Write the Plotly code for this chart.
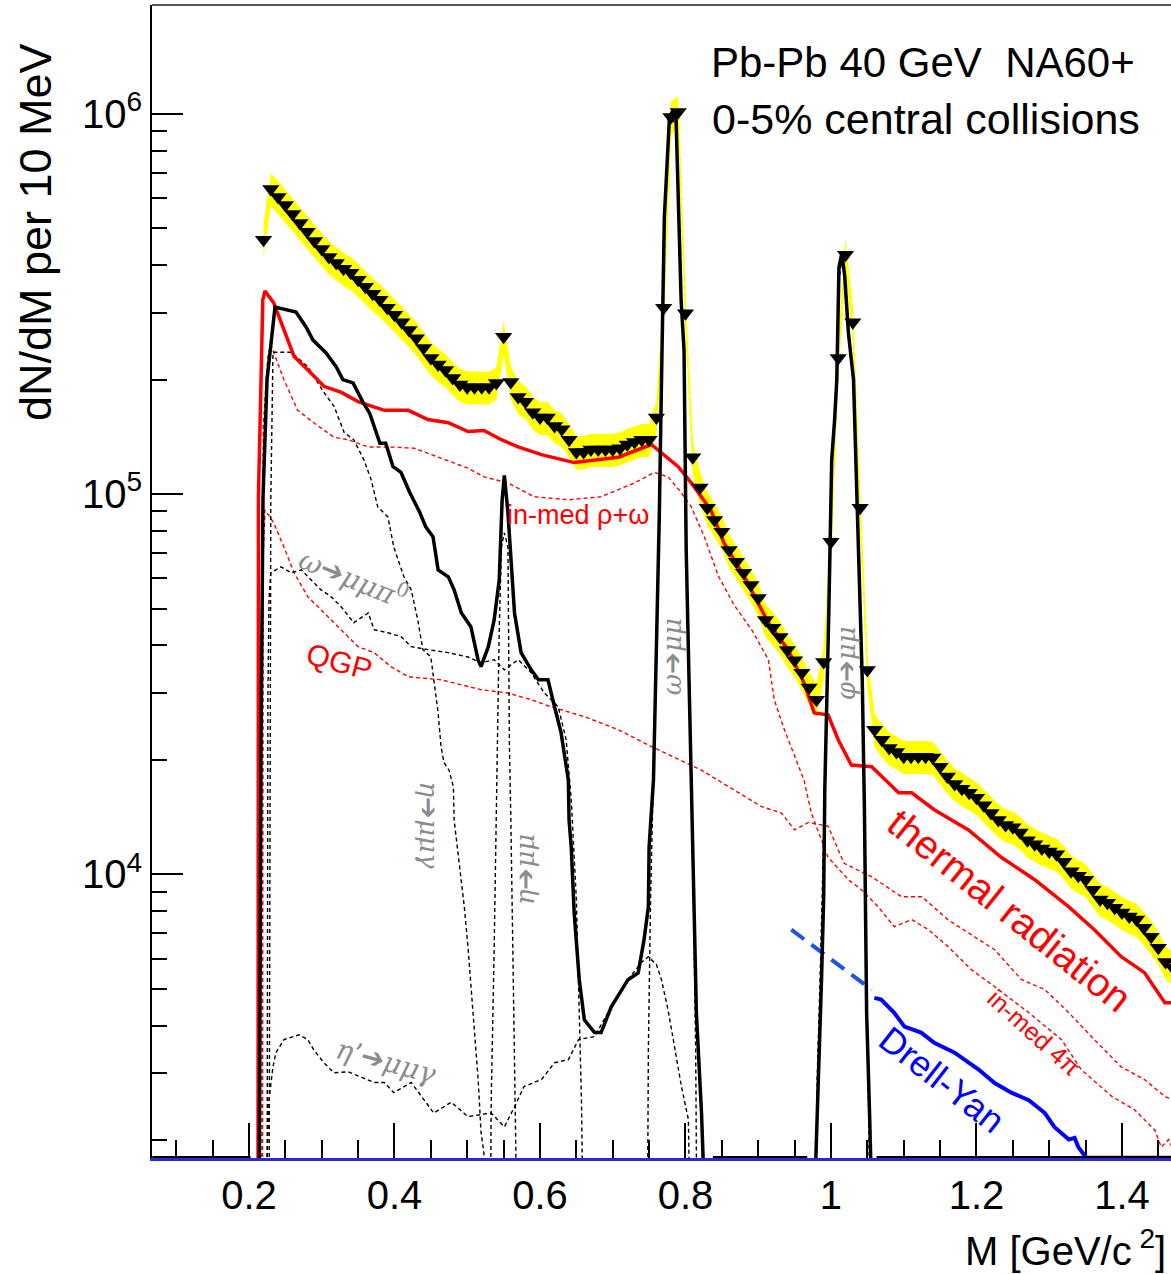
import numpy as np
import plotly.graph_objects as go

OFF = 1.0e3     # below the visible range (clipped)
FLOOR = 1.8e3   # histogram bins sitting on the bottom of the frame

# ---------------- measured spectrum (bin centres every 10 MeV) ----------------
data_mass = np.round(np.arange(0.22, 1.4751, 0.01), 2)
data_yield = [
    4.66e5, 6.34e5, 6.04e5, 5.75e5, 5.45e5, 5.16e5, 4.89e5, 4.63e5, 4.41e5, 4.20e5,
    4.05e5, 3.91e5, 3.82e5, 3.66e5, 3.51e5, 3.36e5, 3.24e5, 3.09e5, 2.96e5, 2.83e5,
    2.70e5, 2.57e5, 2.42e5, 2.28e5, 2.19e5, 2.12e5, 2.02e5, 1.94e5, 1.91e5, 1.91e5,
    1.91e5, 1.91e5, 1.96e5, 2.59e5, 1.97e5, 1.80e5, 1.75e5, 1.64e5, 1.59e5, 1.59e5,
    1.51e5, 1.48e5, 1.39e5, 1.29e5, 1.29e5, 1.31e5, 1.31e5, 1.31e5, 1.31e5, 1.32e5,
    1.35e5, 1.37e5, 1.39e5, 1.39e5, 1.59e5, 3.09e5, 9.80e5, 1.01e6, 2.99e5, 1.25e5,
    1.04e5, 9.20e4, 8.55e4, 7.96e4, 7.13e4, 6.64e4, 6.21e4, 5.77e4, 5.33e4, 4.67e4,
    4.45e4, 4.21e4, 3.89e4, 3.66e4, 3.39e4, 3.10e4, 2.88e4, 3.62e4, 7.49e4, 2.28e5,
    4.26e5, 2.83e5, 9.20e4, 3.45e4, 2.40e4, 2.26e4, 2.15e4, 2.10e4, 2.04e4, 2.04e4,
    2.04e4, 2.04e4, 2.03e4, 1.92e4, 1.81e4, 1.73e4, 1.68e4, 1.64e4, 1.59e4, 1.52e4,
    1.45e4, 1.39e4, 1.35e4, 1.33e4, 1.29e4, 1.23e4, 1.20e4, 1.17e4, 1.15e4, 1.13e4,
    1.08e4, 1.02e4, 9.92e3, 9.69e3, 9.12e3, 8.59e3, 8.43e3, 8.18e3, 7.94e3, 7.75e3,
    7.61e3, 7.24e3, 6.86e3, 6.42e3, 5.89e3, 5.69e3,
]
sys_rel_err = 0.10

# ---------------- thermal radiation (total, thick red) ----------------
thermal_mass = [0.2124, 0.213, 0.219, 0.222, 0.234, 0.248, 0.262, 0.281, 0.303, 0.327,
                0.350, 0.386, 0.419, 0.446, 0.474, 0.501, 0.523, 0.547, 0.570, 0.602,
                0.647, 0.708, 0.753, 0.790, 0.808, 0.835, 0.853, 0.881, 0.914, 0.941,
                0.963, 0.977, 0.996, 1.010, 1.028, 1.056, 1.093, 1.111, 1.142, 1.189,
                1.234, 1.280, 1.327, 1.362, 1.399, 1.431, 1.459, 1.47]
thermal_yield = [OFF, 9.84e4, 3.24e5, 3.42e5, 3.18e5, 2.70e5, 2.30e5, 2.12e5, 1.92e5, 1.85e5,
                 1.75e5, 1.66e5, 1.66e5, 1.57e5, 1.54e5, 1.46e5, 1.47e5, 1.39e5, 1.33e5, 1.27e5,
                 1.21e5, 1.25e5, 1.35e5, 1.18e5, 1.07e5, 9.08e4, 7.44e4, 6.06e4, 4.59e4, 3.90e4,
                 3.19e4, 2.66e4, 2.63e4, 2.26e4, 1.94e4, 1.92e4, 1.64e4, 1.64e4, 1.48e4, 1.31e4,
                 1.11e4, 9.69e3, 8.22e3, 7.16e3, 6.08e3, 5.52e3, 4.60e3, 4.60e3]

# ---------------- in-medium rho+omega (+4pi), thin red dashed ----------------
inmed_mass = [0.2185, 0.2195, 0.226, 0.230, 0.248, 0.267, 0.289, 0.317, 0.336, 0.364,
              0.395, 0.427, 0.446, 0.474, 0.501, 0.523, 0.556, 0.592, 0.639, 0.684,
              0.730, 0.757, 0.776, 0.794, 0.808, 0.826, 0.845, 0.867, 0.891, 0.914,
              0.922, 0.936, 0.950, 0.963, 0.973, 0.996, 1.024, 1.042, 1.065, 1.087,
              1.111, 1.134, 1.161, 1.193, 1.225, 1.272, 1.317, 1.344, 1.386, 1.417,
              1.445, 1.454, 1.464, 1.47]
inmed_yield = [OFF, 1.5e5, 2.3e5, 2.47e5, 2.00e5, 1.66e5, 1.54e5, 1.41e5, 1.39e5, 1.33e5,
               1.33e5, 1.32e5, 1.28e5, 1.22e5, 1.17e5, 1.11e5, 1.07e5, 9.84e4, 9.66e4, 9.84e4,
               1.07e5, 1.14e5, 1.11e5, 1.01e5, 9.25e4, 7.72e4, 6.1e4, 5.1e4, 4.4e4, 3.67e4,
               2.88e4, 2.40e4, 2.04e4, 1.77e4, 1.45e4, 1.11e4, 9.69e3, 9.12e3, 8.22e3, 7.29e3,
               7.61e3, 7.16e3, 6.46e3, 5.62e3, 5.07e3, 4.33e3, 3.68e3, 3.07e3, 2.61e3, 2.41e3,
               2.13e3, 1.92e3, 2.01e3, 1.90e3]

# ---------------- QGP, thin red dashed ----------------
qgp_mass = [0.2175, 0.2193, 0.222, 0.234, 0.248, 0.262, 0.281, 0.303, 0.327, 0.350,
            0.372, 0.395, 0.419, 0.464, 0.519, 0.556, 0.588, 0.615, 0.661, 0.708,
            0.753, 0.822, 0.904, 0.932, 0.950, 0.969, 0.996, 1.018, 1.056, 1.097,
            1.125, 1.161, 1.225, 1.262, 1.294, 1.327, 1.362, 1.399, 1.431, 1.459, 1.47]
qgp_yield = [OFF, 6.71e4, 9.09e4, 8.40e4, 7.26e4, 6.21e4, 5.37e4, 4.87e4, 4.40e4, 3.97e4,
             3.83e4, 3.52e4, 3.31e4, 3.25e4, 3.06e4, 3.00e4, 2.88e4, 2.76e4, 2.60e4, 2.40e4,
             2.17e4, 1.88e4, 1.51e4, 1.45e4, 1.31e4, 1.37e4, 1.34e4, 1.07e4, 9.86e3, 8.74e3,
             8.74e3, 7.60e3, 6.34e3, 5.29e3, 4.98e3, 4.33e3, 3.68e3, 3.12e3, 2.89e3, 2.61e3, 2.55e3]

# ---------------- hadronic cocktail sum (thick black) ----------------
cocktail_mass = [0.067, 0.200, 0.2138, 0.2165, 0.2193, 0.2248, 0.2358, 0.2647, 0.2784, 0.288,
                 0.306, 0.320, 0.329, 0.343, 0.357, 0.366, 0.380, 0.388, 0.398, 0.409,
                 0.421, 0.435, 0.443, 0.453, 0.460, 0.474, 0.482, 0.492, 0.505, 0.515,
                 0.519, 0.529, 0.537, 0.544, 0.548, 0.551, 0.556, 0.560, 0.565, 0.574,
                 0.588, 0.598, 0.611, 0.620, 0.629, 0.639, 0.640, 0.643, 0.647, 0.654,
                 0.661, 0.675, 0.684, 0.698, 0.721, 0.735, 0.743, 0.749, 0.750, 0.756,
                 0.760, 0.764, 0.767, 0.771, 0.778, 0.783, 0.787, 0.790, 0.794, 0.798,
                 0.801, 0.804, 0.808, 0.811, 0.815, 0.822, 0.829, 0.840, 0.965, 0.975,
                 0.983, 0.987, 0.990, 0.9915, 0.997, 1.001, 1.005, 1.008, 1.011, 1.015,
                 1.019, 1.024, 1.031, 1.035, 1.039, 1.043, 1.046, 1.049, 1.053, 1.058,
                 1.065, 1.47]
cocktail_yield = [FLOOR, FLOOR, OFF, 2.12e4, 9.84e4, 2.00e5, 3.10e5, 3.01e5, 2.75e5, 2.54e5,
                  2.35e5, 2.16e5, 2.00e5, 1.96e5, 1.74e5, 1.63e5, 1.36e5, 1.36e5, 1.18e5, 1.14e5,
                  1.01e5, 8.93e4, 8.20e4, 7.72e4, 6.32e4, 6.06e4, 5.60e4, 4.87e4, 4.48e4, 3.66e4,
                  3.52e4, 3.97e4, 4.67e4, 5.95e4, 9.66e4, 1.12e5, 8.93e4, 6.60e4, 4.87e4, 3.83e4,
                  3.45e4, 3.25e4, 3.25e4, 2.76e4, 2.36e4, 1.77e4, 1.39e4, 1.18e4, 7.94e3, 5.29e3,
                  4.15e3, 3.84e3, 3.84e3, 4.49e3, 5.29e3, 5.51e3, 6.73e3, 8.22e3, 1.18e4, 1.77e4,
                  3.89e4, 8.71e4, 1.96e5, 5.35e5, 9.80e5, 1.02e6, 9.80e5, 6.18e5, 3.24e5, 2.39e5,
                  7.13e4, 3.89e4, 1.77e4, 9.69e3, 4.33e3, 2.37e3, OFF, FLOOR, FLOOR, OFF,
                  2.89e3, 5.29e3, 8.74e3, 1.67e4, 4.87e4, 1.23e5, 1.57e5, 2.00e5, 3.95e5, 4.30e5,
                  3.72e5, 2.65e5, 2.00e5, 1.09e5, 5.94e4, 3.25e4, 1.48e4, 4.33e3, 2.37e3, OFF,
                  FLOOR, FLOOR]

# ---------------- individual cocktail sources (thin black dashed) ----------------
omega_dalitz_mass = [0.2248, 0.226, 0.2275, 0.230, 0.244, 0.258, 0.272, 0.285, 0.299, 0.313,
                     0.327, 0.344, 0.364, 0.372, 0.391, 0.409, 0.423, 0.446, 0.474, 0.501,
                     0.519, 0.537, 0.551, 0.570, 0.588, 0.606, 0.625, 0.636, 0.643, 0.650,
                     0.654, 0.657, 0.660]
omega_dalitz_yield = [OFF, 2.88e4, 5.28e4, 6.21e4, 6.44e4, 6.21e4, 6.32e4, 5.96e4, 5.60e4, 5.37e4,
                      5.05e4, 4.59e4, 4.87e4, 4.40e4, 4.32e4, 4.22e4, 3.97e4, 3.90e4, 3.83e4, 3.73e4,
                      3.60e4, 3.67e4, 3.45e4, 3.67e4, 3.39e4, 3.00e4, 2.76e4, 2.26e4, 1.57e4, 8.59e3,
                      4.69e3, 2.56e3, OFF]

eta_dalitz_mass = [0.2275, 0.230, 0.233, 0.258, 0.281, 0.303, 0.317, 0.331, 0.344, 0.358,
                   0.368, 0.377, 0.391, 0.399, 0.413, 0.423, 0.432, 0.439, 0.450, 0.454,
                   0.460, 0.464, 0.468, 0.475, 0.481, 0.482, 0.489, 0.496, 0.501, 0.508,
                   0.515, 0.519, 0.523, 0.526]
eta_dalitz_yield = [OFF, 9.64e4, 2.36e5, 2.36e5, 2.16e5, 1.85e5, 1.70e5, 1.45e5, 1.39e5, 1.23e5,
                    1.09e5, 9.25e4, 8.71e4, 7.26e4, 6.06e4, 5.60e4, 4.67e4, 3.90e4, 3.73e4, 3.25e4,
                    2.66e4, 2.17e4, 1.97e4, 1.88e4, 1.70e4, 1.39e4, 1.07e4, 8.22e3, 6.46e3, 4.33e3,
                    2.89e3, 2.10e3, 1.85e3, OFF]

eta_mumu_mass = [0.5315, 0.533, 0.537, 0.540, 0.5425, 0.544, 0.547, 0.551, 0.556, 0.557,
                 0.558, 0.560, 0.563, 0.567, 0.569]
eta_mumu_yield = [OFF, 2.56e3, 6.34e3, 1.39e4, 2.66e4, 4.40e4, 7.26e4, 7.91e4, 7.26e4, 3.97e4,
                  2.17e4, 1.39e4, 6.34e3, 2.56e3, OFF]

omega_mumu_mass = [0.7475, 0.749, 0.752, 0.756, 0.760, 0.764, 0.767, 0.771, 0.778, 0.783,
                   0.787, 0.790, 0.794, 0.798, 0.801, 0.804, 0.808, 0.811, 0.814, 0.816]
omega_mumu_yield = [OFF, 3.46e3, 8.59e3, 1.77e4, 3.89e4, 8.71e4, 1.96e5, 5.35e5, 9.30e5, 9.60e5,
                    9.30e5, 6.18e5, 3.24e5, 2.39e5, 7.13e4, 3.89e4, 1.77e4, 8.59e3, 3.46e3, OFF]

phi_mumu_mass = [0.9785, 0.981, 0.985, 0.988, 0.9915, 0.997, 1.001, 1.008, 1.011, 1.015,
                 1.019, 1.024, 1.031, 1.035, 1.039, 1.043, 1.046, 1.049, 1.052, 1.054]
phi_mumu_yield = [OFF, 2.89e3, 5.29e3, 8.74e3, 1.67e4, 4.87e4, 1.23e5, 2.00e5, 3.65e5, 4.15e5,
                  3.65e5, 2.62e5, 1.94e5, 1.09e5, 5.94e4, 3.25e4, 1.48e4, 4.33e3, 2.27e3, OFF]

etap_dalitz_mass = [0.2206, 0.2275, 0.233, 0.237, 0.248, 0.269, 0.281, 0.289, 0.303, 0.317,
                    0.336, 0.354, 0.372, 0.386, 0.399, 0.423, 0.454, 0.478, 0.501, 0.533,
                    0.551, 0.565, 0.578, 0.602, 0.620, 0.639, 0.653, 0.675, 0.698, 0.721,
                    0.739, 0.749, 0.760, 0.767, 0.776, 0.785, 0.794, 0.804, 0.807]
etap_dalitz_yield = [OFF, 2.56e3, 3.12e3, 3.40e3, 3.68e3, 3.79e3, 3.68e3, 3.46e3, 3.20e3, 3.01e3,
                     3.03e3, 2.94e3, 2.84e3, 2.84e3, 2.67e3, 2.84e3, 2.36e3, 2.52e3, 2.31e3, 2.36e3,
                     2.17e3, 2.45e3, 2.77e3, 2.89e3, 3.20e3, 3.26e3, 3.68e3, 3.75e3, 4.49e3, 5.29e3,
                     5.86e3, 6.08e3, 5.80e3, 5.29e3, 4.41e3, 3.52e3, 2.80e3, 2.27e3, OFF]

# ---------------- Drell-Yan ----------------
dy_mass = [1.0597, 1.069, 1.087, 1.101, 1.124, 1.142, 1.170, 1.189, 1.203, 1.225,
           1.248, 1.272, 1.294, 1.307, 1.327, 1.335, 1.340, 1.351, 1.47]
dy_yield = [4.74e3, 4.69e3, 4.33e3, 3.98e3, 3.84e3, 3.61e3, 3.40e3, 3.20e3, 3.07e3, 2.83e3,
            2.67e3, 2.55e3, 2.36e3, 2.17e3, 2.01e3, 2.03e3, 1.92e3, FLOOR, FLOOR]
dy_extrap_mass = [0.9455, 1.056]
dy_extrap_yield = [7.16e3, 4.98e3]

# ---------------- axis ----------------
x_range = [0.0667, 1.4674]
y_range_log = [3.2547, 6.2857]
x_tick_vals = [0.2, 0.4, 0.6, 0.8, 1.0, 1.2, 1.4]
x_tick_text = ["0.2", "0.4", "0.6", "0.8", "1", "1.2", "1.4"]
y_tick_vals = [1e4, 1e5, 1e6]
y_tick_text = ["10<sup>4</sup>", "10<sup>5</sup>", "10<sup>6</sup>"]
y_minor_vals = [m * 10 ** e for e in (3, 4, 5) for m in range(2, 10)]

RED = "#ff0000"
GREY = "#8c8c8c"

fig = go.Figure()

band_hi = [v * (1 + sys_rel_err) for v in data_yield]
band_lo = [v * (1 - sys_rel_err) for v in data_yield]
fig.add_trace(go.Scatter(x=data_mass, y=band_lo, mode="lines", line=dict(color="#ffff00", width=0),
                         showlegend=False, hoverinfo="skip"))
fig.add_trace(go.Scatter(x=data_mass, y=band_hi, mode="lines", line=dict(color="#ffff00", width=0),
                         fill="tonexty", fillcolor="#ffff00", showlegend=False, hoverinfo="skip"))
fig.add_trace(go.Scatter(x=data_mass, y=data_yield, mode="lines",
                         line=dict(color="#ffff00", width=2, dash="5px,3px"), showlegend=False))


def thin(xs, ys, color):
    fig.add_trace(go.Scatter(x=xs, y=ys, mode="lines", showlegend=False,
                             line=dict(color=color, width=1.4, dash="4px,3px")))


thin(qgp_mass, qgp_yield, RED)
thin(inmed_mass, inmed_yield, RED)
thin(etap_dalitz_mass, etap_dalitz_yield, "black")
thin(omega_dalitz_mass, omega_dalitz_yield, "black")
thin(eta_dalitz_mass, eta_dalitz_yield, "black")
thin(eta_mumu_mass, eta_mumu_yield, "black")
thin(omega_mumu_mass, omega_mumu_yield, "black")
thin(phi_mumu_mass, phi_mumu_yield, "black")

fig.add_trace(go.Scatter(x=thermal_mass, y=thermal_yield, mode="lines", showlegend=False,
                         line=dict(color=RED, width=3.5)))
fig.add_trace(go.Scatter(x=dy_mass, y=dy_yield, mode="lines", showlegend=False,
                         line=dict(color="#0000ff", width=4)))
fig.add_trace(go.Scatter(x=dy_extrap_mass, y=dy_extrap_yield, mode="lines", showlegend=False,
                         line=dict(color="#1f55e0", width=4, dash="16px,9px")))
fig.add_trace(go.Scatter(x=cocktail_mass, y=cocktail_yield, mode="lines", showlegend=False,
                         line=dict(color="black", width=3.5)))
fig.add_trace(go.Scatter(x=data_mass, y=data_yield, mode="markers", showlegend=False,
                         marker=dict(symbol="triangle-down", size=15, color="black",
                                     line=dict(width=0))))

ann = []


def label(x, ylog, text, size, color, angle=0, family="Liberation Sans"):
    ann.append(dict(x=x, y=ylog, xref="x", yref="y", text=text, showarrow=False,
                    textangle=angle, xanchor="center", yanchor="middle",
                    font=dict(family=family, size=size, color=color)))


label(1.127, 6.134, "Pb-Pb 40 GeV\u00a0 NA60+", 42, "black")
label(1.130, 5.986, "0-5% central collisions", 43, "black")
label(0.6525, 4.945, "in-med ρ+ω", 27, RED)
label(0.3238, 4.559, "QGP", 30, RED, 15)
label(1.2454, 3.907, "thermal radiation", 40, RED, 38.6)
label(1.280, 3.584, "in-med 4π", 25, RED, 42)
label(1.152, 3.460, "Drell-Yan", 36, "#0000ff", 38)
SERIF = "DejaVu Serif"
label(0.343, 4.782, "<i>ω</i>\u2794<i>μμπ</i><sup>0</sup>", 28, GREY, 22, SERIF)
label(0.4476, 4.131, "<i>η</i>\u2794<i>μμγ</i>", 26, GREY, 90, SERIF)
label(0.5797, 4.012, "<i>η</i>\u2794<i>μμ</i>", 26, GREY, -90, SERIF)
label(0.7818, 4.572, "<i>ω</i>\u2794<i>μμ</i>", 26, GREY, -90, SERIF)
label(1.0212, 4.556, "<i>φ</i>\u2794<i>μμ</i>", 26, GREY, -90, SERIF)
label(0.3884, 3.508, "<i>η</i>’\u2794<i>μμγ</i>", 28, GREY, 15, SERIF)

ann.append(dict(x=-0.1148, y=0.8031, xref="paper", yref="paper", text="dN/dM per 10 MeV",
                showarrow=False, textangle=-90, xanchor="center", yanchor="middle",
                font=dict(family="Liberation Sans", size=45, color="black")))
ann.append(dict(x=0.997, y=-0.078, xref="paper", yref="paper", text="M [GeV/c<sup> 2</sup>]",
                showarrow=False, xanchor="right", yanchor="middle",
                font=dict(family="Liberation Sans", size=40, color="black")))

fig.update_layout(
    width=1171, height=1274,
    margin=dict(l=152, r=0, t=5, b=116),
    paper_bgcolor="white", plot_bgcolor="white",
    annotations=ann,
    shapes=[dict(type="line", xref="paper", yref="paper", x0=0, x1=1, y0=1, y1=1,
                 line=dict(color="#555555", width=2))],
    xaxis=dict(range=x_range, showgrid=False, zeroline=False,
               showline=True, linecolor="#2a2ad0", linewidth=2.5, layer="below traces",
               ticks="inside", ticklen=35, tickwidth=1.5, tickcolor="black",
               tickvals=x_tick_vals, ticktext=x_tick_text,
               tickfont=dict(family="Liberation Sans", size=40, color="black"),
               minor=dict(ticks="inside", ticklen=18, tickwidth=1.5, tickcolor="black", dtick=0.05)),
    yaxis=dict(type="log", range=y_range_log, showgrid=False, zeroline=False,
               showline=True, linecolor="black", linewidth=2,
               ticks="inside", ticklen=31, tickwidth=1.5, tickcolor="black",
               tickvals=y_tick_vals, ticktext=y_tick_text,
               tickfont=dict(family="Liberation Sans", size=40, color="black"),
               minor=dict(ticks="inside", ticklen=15, tickwidth=1.5, tickcolor="black",
                          tickvals=y_minor_vals)),
)

fig.write_html("out.html")
